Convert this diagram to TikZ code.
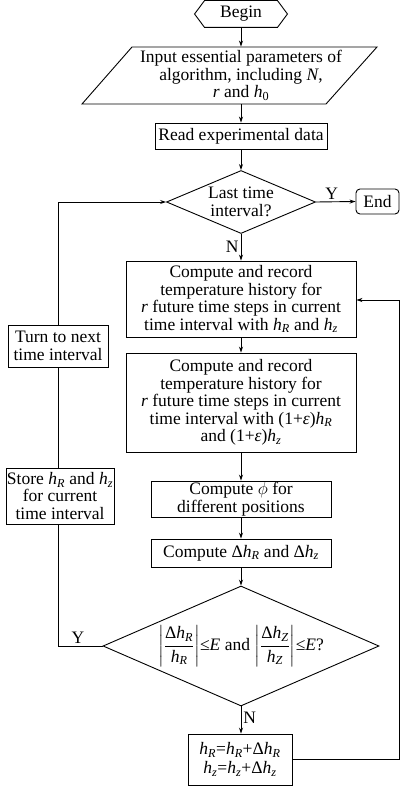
\documentclass[tikz,border=0pt]{standalone}
\usepackage{amsmath}
\usepackage{fontspec}
\setmainfont{Liberation Serif}
\usetikzlibrary{arrows.meta,shapes.geometric,calc}
\newcommand\vh{\textit{h}}
\newcommand\sR{\textsubscript{\textit{R}}}
\newcommand\sz{\textsubscript{\textit{z}}}
\newcommand\sZ{\textsubscript{\textit{Z}}}
\begin{document}
\begin{tikzpicture}[x=1pt,y=-1pt,
  font=\fontsize{17.5}{17.5}\selectfont,
  line width=0.9pt,
  arr/.style={-{Stealth[length=6pt,width=4pt]}},
  box/.style={draw, align=center, inner sep=0pt},
  dec/.style={draw, diamond, align=center, inner sep=0pt},
  lab/.style={inner sep=2pt}]
\useasboundingbox (0,0) rectangle (400,786);
% begin hexagon
\node (begin) at (241,14) [minimum width=92pt, minimum height=26pt, inner sep=0pt] {Begin};
\draw (begin.west) -- ($(begin.north west)+(10,0)$) -- ($(begin.north east)+(-10,0)$)
  -- (begin.east) -- ($(begin.south east)+(-10,0)$) -- ($(begin.south west)+(10,0)$) -- cycle;
% input parallelogram
\node (input) at (241,75.5) [minimum height=57pt, align=center, inner sep=0pt]
  {Input essential parameters of\\algorithm, including \textit{N},\\\textit{r} and \vh\textsubscript{0}};
\draw (132,47) -- (377,47) -- (326,104) -- (82,104) -- cycle;
\node (read) at (241,136) [box, minimum width=172pt, minimum height=26pt] {Read experimental data};
\node (d1) at (241,202) [dec, aspect=2.37, minimum width=149pt, minimum height=63pt] {Last time\\interval?};
\node (end) at (377.5,201.5) [box, rounded corners=4pt, minimum width=43pt, minimum height=25pt] {End};
\node (b1) at (241,299) [box, minimum width=230pt, minimum height=76pt]
  {Compute and record\\temperature history for\\\textit{r} future time steps in current\\time interval with \vh\sR{} and \vh\sz};
\node (b2) at (241,402.5) [box, minimum width=230pt, minimum height=99pt]
  {Compute and record\\temperature history for\\\textit{r} future time steps in current\\time interval with (1+\textit{ε})\vh\sR\\and (1+\textit{ε})\vh\sz};
\node (b3) at (241,499) [box, minimum width=180pt, minimum height=36pt]
  {Compute $\phi$ for\\different positions};
\node (b4) at (241,553) [box, minimum width=180pt, minimum height=28pt]
  {Compute Δ\vh\sR{} and Δ\vh\sz};
\node (d2) at (241,646) [dec, aspect=2.3, minimum width=276pt, minimum height=120pt]
  {$\left|\dfrac{\text{Δ\vh\sR}}{\text{\vh\sR}}\right|$≤\textit{E} and $\left|\dfrac{\text{Δ\vh\sZ}}{\text{\vh\sZ}}\right|$≤\textit{E}?};
\node (b5) at (240,759.5) [box, minimum width=104pt, minimum height=51pt, font=\fontsize{17.5}{19}\selectfont]
  {\vh\sR=\vh\sR+Δ\vh\sR\\\vh\sz=\vh\sz+Δ\vh\sz};
\node (turn) at (58,346) [box, minimum width=100pt, minimum height=42pt] {Turn to next\\time interval};
\node (store) at (60,496) [box, minimum width=108pt, minimum height=56pt]
  {Store \vh\sR{} and \vh\sz\\for current\\time interval};
\coordinate (fb) at (399,300);
\coordinate (lx) at (58,646);
% connectors
\draw[arr] (begin.south) -- (begin.south |- input.north);
\draw[arr] (begin.south |- input.south) -- (read.north);
\draw[arr] (read.south) -- (d1.north);
\draw[arr] (d1.east) -- node[lab, above, pos=0.4] {Y} (end.west);
\draw[arr] (d1.south) -- node[lab, left] {N} (b1.north);
\draw[arr] (b1.south) -- (b2.north);
\draw[arr] (b2.south) -- (b3.north);
\draw[arr] (b3.south) -- (b4.north);
\draw[arr] (b4.south) -- (d2.north);
\draw[arr] (d2.south) -- node[lab, right, pos=0.4] {N} (d2.south |- b5.north);
\draw[arr] (b5.east) -- (b5.east -| fb) -- (fb) -- (fb -| b1.east);
\draw (d2.west) -- node[lab, above, pos=0.55] {Y} (lx) -- (lx |- store.south);
\draw (lx |- store.north) -- (lx |- turn.south);
\draw[arr] (lx |- turn.north) -- (lx |- d1.west) -- (d1.west);
\end{tikzpicture}
\end{document}
